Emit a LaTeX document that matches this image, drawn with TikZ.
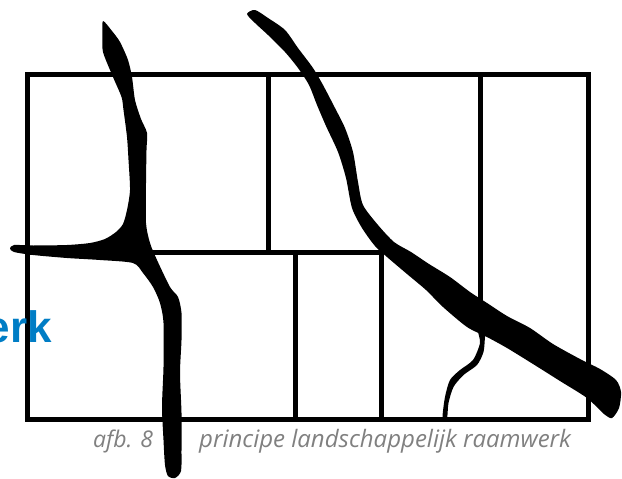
\documentclass[tikz,border=0pt]{standalone}
\usepackage{fontspec}
\newfontfamily\capfont{Open Sans}
\newfontfamily\headfont{Liberation Sans}
\definecolor{kopblauw}{RGB}{0,125,197}
\definecolor{bijschrift}{RGB}{128,128,128}
\begin{document}
\begin{tikzpicture}[x=1pt,y=-1pt,
  kader/.style={line width=5pt,line cap=rect},
  beek/.style={smooth cycle,tension=0.45}]
\useasboundingbox (0,0) rectangle (622,479);
\draw[kader] (27.5,74.5) rectangle (588,419.5);
\draw[kader] (27.5,252) -- (381,252);
\draw[kader] (268.5,74.5) -- (268.5,252);
\draw[kader] (295,252) -- (295,419.5);
\draw[kader] (381,252) -- (381,419.5);
\draw[kader] (480.5,74.5) -- (480.5,315);
\fill plot[beek] coordinates {(103,21) (112,31) (120,42) (128,60) (132,77) (135,100) (141,119) (147,133) (146.5,150) (146,183) (146,223) (150,243) (157,260) (170,287) (178,297) (181.5,313) (181.5,340) (180,373) (181.5,413) (181.5,450) (181,471) (175,478) (168,476) (165,465) (163.5,440) (162,407) (163.5,367) (163.5,323) (160,303) (153,287) (143,273) (133,263) (100,260) (67,258) (33,255) (14,252) (10,248.5) (14,245) (33,245.5) (67,245) (90,243) (105,239) (116,232) (123,224) (127,210) (130,190) (128.5,160) (127,137) (123.5,110) (121.5,97) (113,77) (103,52) (102.5,35)};
\fill plot[beek] coordinates {(247,14) (255,10) (268,18) (285,30) (298,48) (313,68) (323,85) (335,108) (345,128) (353,152) (358,182) (363,205) (378,225) (394,242) (411,252) (429,264) (450,277) (470,292) (487,303) (507,316) (530,328) (553,344) (580,359) (600,369) (616,380) (621,392) (619,408) (612,418) (604,414) (587,398) (560,381) (533,364) (507,348) (487,337) (467,327) (443,307) (426,290) (407,274) (387,257) (375,246) (362,228) (352,208) (346,178) (338,152) (326,126) (317,105) (309,85) (298,68) (285,52) (268,35) (255,23)};
\fill plot[beek] coordinates {(478,330) (486,332) (485,337) (483.5,352) (477,365) (463.5,375) (453.5,387) (448.5,403) (447,418) (442.5,418) (445,397) (450,380) (460,370) (473,360) (480,343)};
\node[anchor=base east,inner sep=0,text=kopblauw,font=\headfont\bfseries\fontsize{44}{44}\selectfont] (kop) at (52,342) {erk};
\node[anchor=base west,inner sep=0,text=bijschrift,font=\capfont\itshape\fontsize{23}{23}\selectfont] (afb) at (93,447) {afb. 8};
\node[anchor=base west,inner sep=0,text=bijschrift,font=\capfont\itshape\fontsize{24}{24}\selectfont] (titel) at (199,447) {principe landschappelijk raamwerk};
\end{tikzpicture}
\end{document}
